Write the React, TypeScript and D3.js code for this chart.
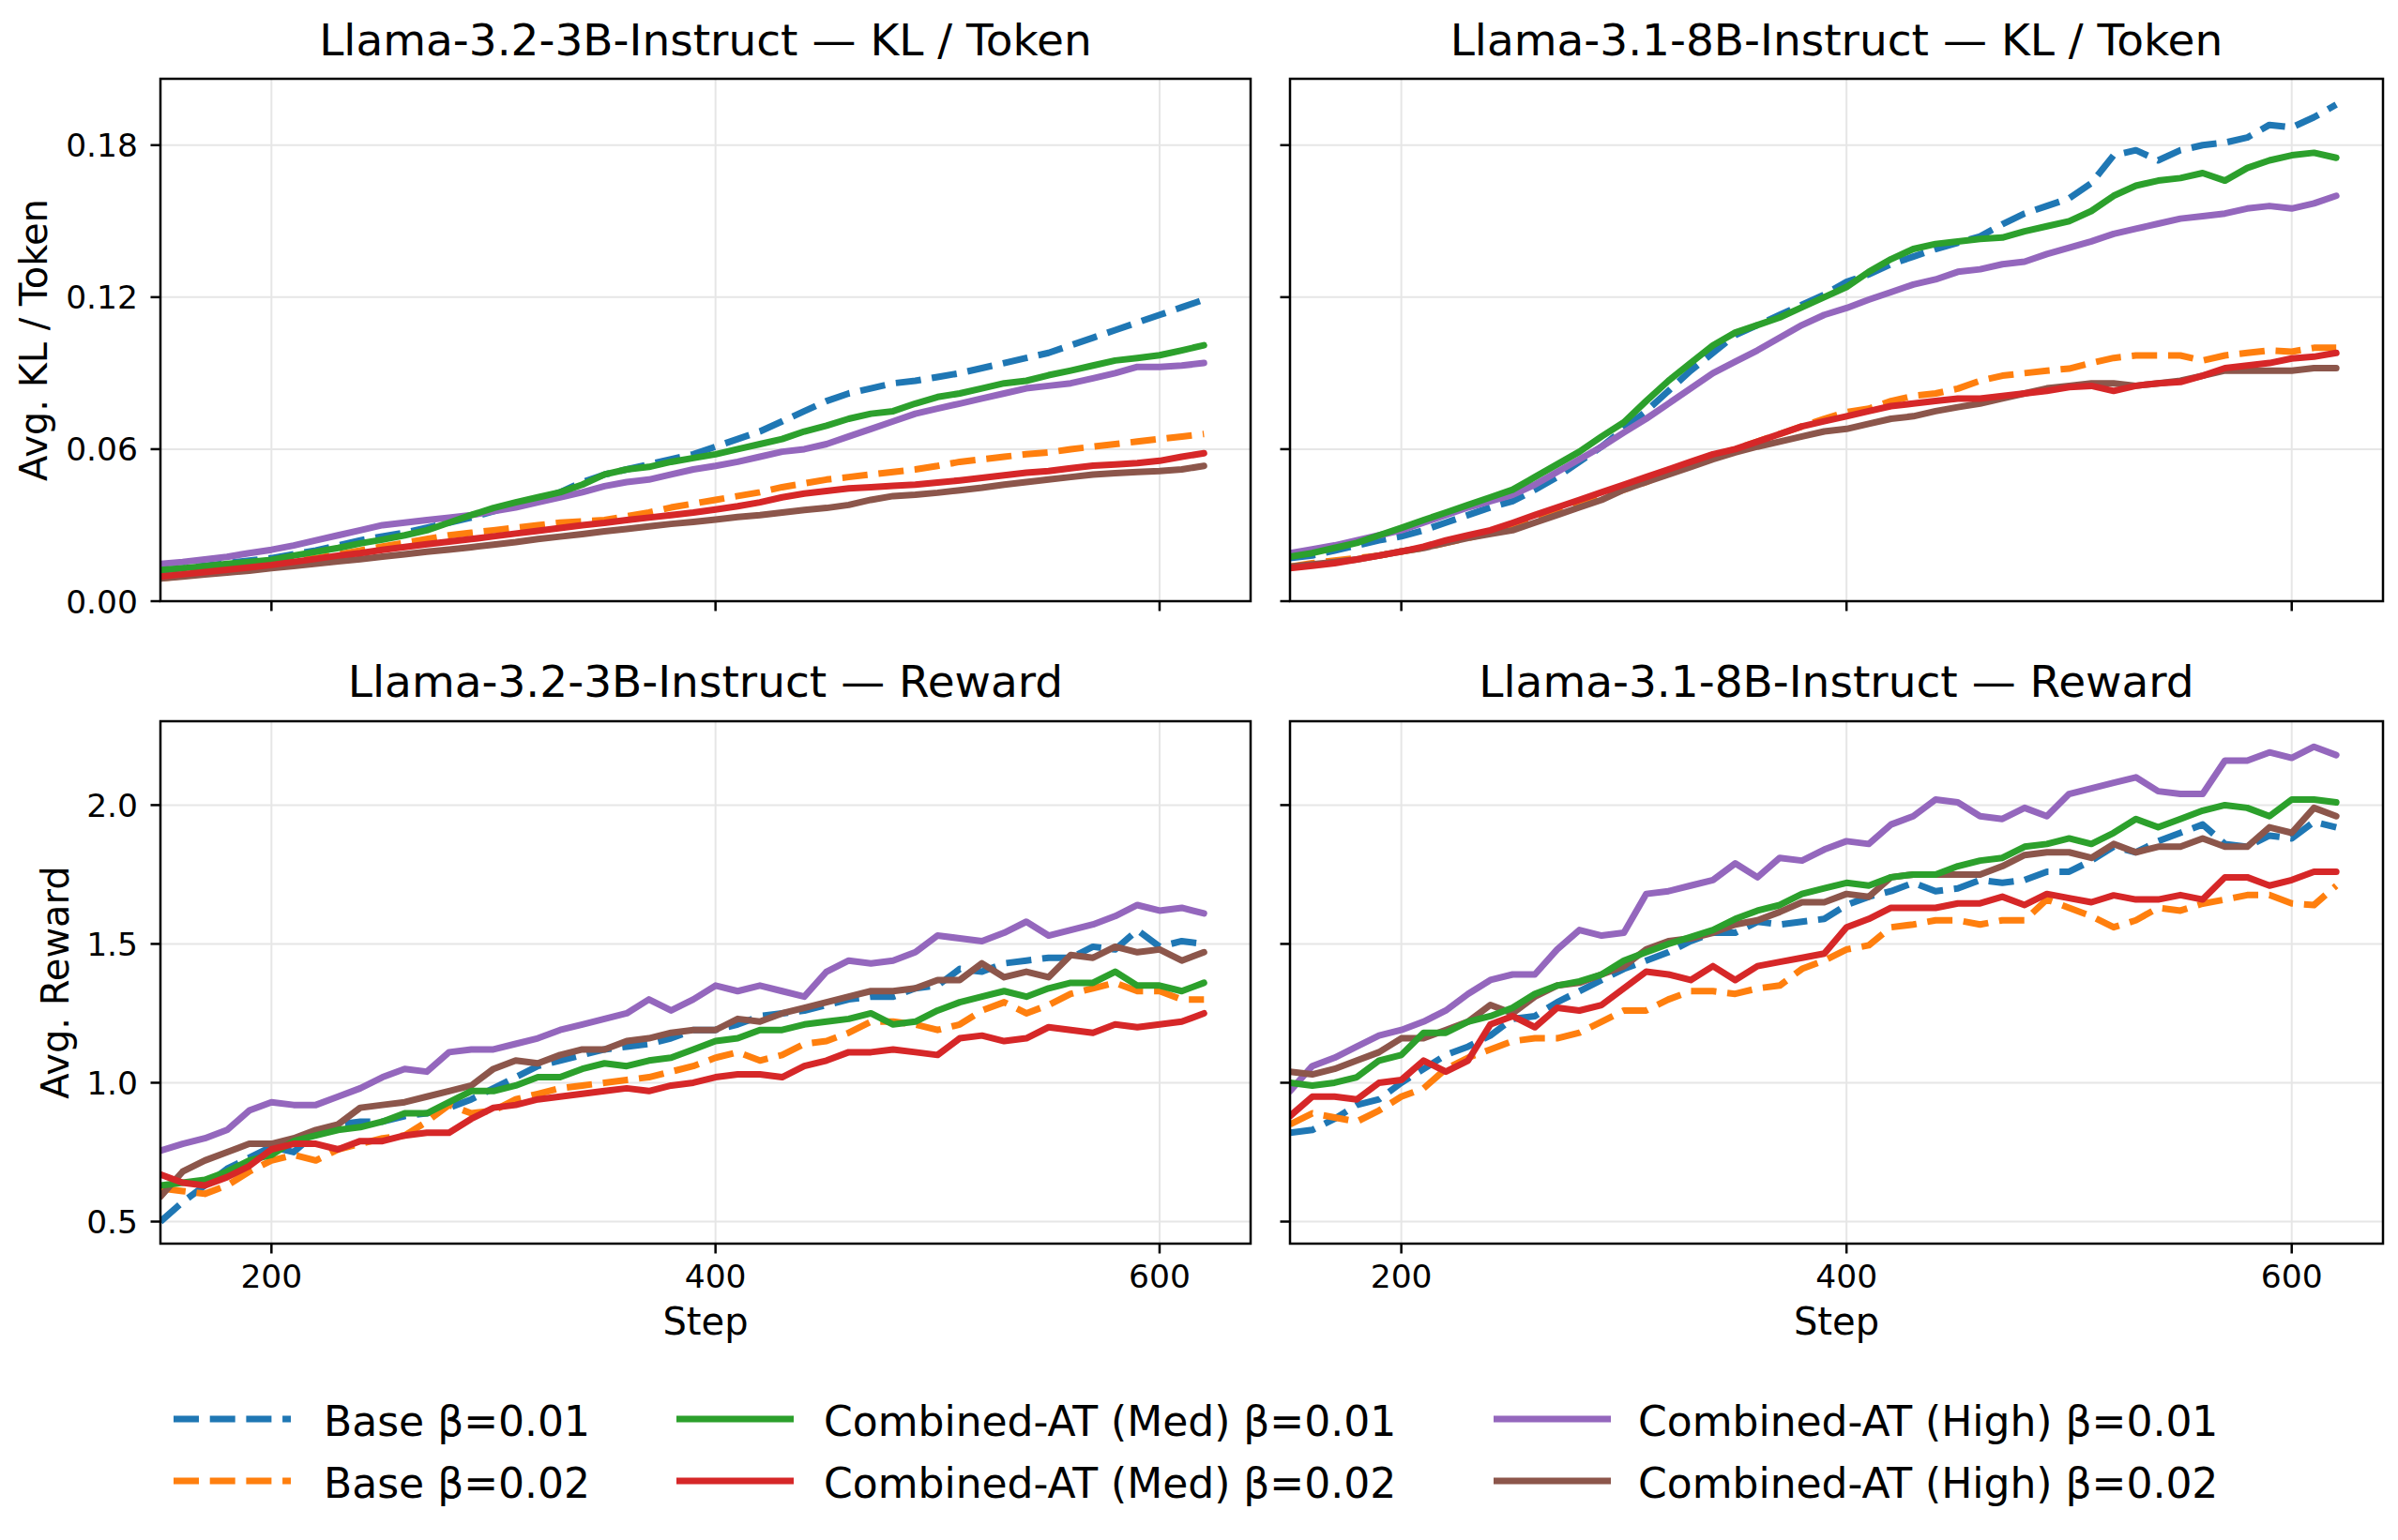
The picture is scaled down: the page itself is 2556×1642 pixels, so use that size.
import React from 'react';
import * as d3 from 'd3';

// ---------------- DATA ----------------
const steps = [150,160,170,180,190,200,210,220,230,240,250,260,270,280,290,300,310,320,330,340,350,360,370,380,390,400,410,420,430,440,450,460,470,480,490,500,510,520,530,540,550,560,570,580,590,600,610,620];

const xTicks = [200, 400, 600];
const klTicks = [0.0, 0.06, 0.12, 0.18];
const rewardTicks = [0.5, 1.0, 1.5, 2.0];

const panelTitles = [
  'Llama-3.2-3B-Instruct — KL / Token',
  'Llama-3.1-8B-Instruct — KL / Token',
  'Llama-3.2-3B-Instruct — Reward',
  'Llama-3.1-8B-Instruct — Reward',
];

const seriesLabels = ['Base β=0.01','Base β=0.02','Combined-AT (Med) β=0.01','Combined-AT (Med) β=0.02','Combined-AT (High) β=0.01','Combined-AT (High) β=0.02'];
const seriesColors = ['#1f77b4','#ff7f0e','#2ca02c','#d62728','#9467bd','#8c564b'];
const seriesDashed = [true, true, false, false, false, false];

// KL / Token, Llama-3.2-3B
const kl3B_base01 = [.012,.013,.014,.015,.016,.017, .0185,.020,.022,.024,.0256,.027,.029,.031,.033,.0355, .038,.040,.043,.047,.050,.052,.054,.056,.058,.061, .064,.067,.071,.075,.079,.082,.084,.086,.087,.0885, .090,.092,.094,.096,.098,.101,.104,.107,.110,.113, .116,.119];
const kl3B_base02 = [.009,.010,.011,.012,.013,.0143, .0157,.017,.0185,.020,.0216,.023,.0245,.026,.027,.028, .029,.030,.031,.0315,.032,.0335,.035,.037,.0385,.040, .0415,.043,.045,.0465,.048,.049,.050,.051,.052,.0534, .055,.056,.057,.058,.0587,.060,.061,.062,.063,.064, .065,.066];
const kl3B_med01 = [.0123,.013,.0138,.0147,.0155,.0163, .018,.0195,.021,.0228,.0243,.026,.028,.031,.034,.0368, .039,.041,.043,.046,.050,.052,.053,.055,.0565,.058, .060,.062,.064,.067,.0693,.072,.074,.075,.078,.0806, .082,.084,.086,.087,.0892,.091,.093,.095,.096,.0971, .099,.101];
const kl3B_med02 = [.0097,.0106,.0115,.0124,.0133,.0143, .0155,.0167,.018,.019,.0203,.0214,.0225,.0235,.0245,.0256, .0267,.0278,.0289,.030,.0309,.032,.033,.034,.035,.0362, .0375,.039,.041,.0425,.0435,.0445,.045,.0455,.046,.0468, .0477,.0487,.0497,.0507,.0514,.0525,.0535,.054,.0545,.0554, .057,.0584];
const kl3B_high01 = [.0147,.0155,.0165,.0175,.019,.0203, .022,.024,.026,.028,.030,.031,.032,.033,.034,.0355, .037,.039,.041,.043,.0454,.047,.048,.050,.052,.0534, .055,.057,.059,.060,.062,.065,.068,.071,.074,.076, .078,.080,.082,.084,.085,.086,.088,.090,.0925,.0925, .093,.094];
const kl3B_high02 = [.009,.0097,.0105,.0113,.012,.013, .0139,.0148,.0157,.0166,.0176,.0185,.0195,.0204,.0213,.0223, .0233,.0245,.0255,.0265,.0276,.0285,.0295,.0305,.0313,.0322, .0332,.034,.035,.036,.0368,.038,.040,.0415,.042,.0428, .0438,.0448,.046,.047,.048,.049,.050,.0505,.051,.0514, .052,.0534];

// KL / Token, Llama-3.1-8B
const kl8B_base01 = [.017,.018,.020,.022,.024,.0256, .028,.031,.034,.037,.0395,.044,.049,.055,.061,.068, .075,.083,.091,.098,.105,.109,.113,.117,.121,.126, .129,.133,.136,.139,.1415,.144,.1488,.153,.156,.159, .165,.176,.178,.174,.178,.180,.181,.183,.188,.187, .191,.196];
const kl8B_base02 = [.0136,.015,.016,.017,.018,.0196, .021,.023,.025,.027,.0295,.032,.035,.038,.041,.044, .047,.051,.054,.057,.060,.063,.066,.069,.072,.0746, .076,.079,.081,.082,.0839,.087,.089,.090,.091,.0918, .094,.096,.097,.097,.097,.095,.097,.098,.099,.0985, .100,.100];
const kl8B_med01 = [.0176,.019,.021,.023,.026,.0289, .032,.035,.038,.041,.044,.049,.054,.059,.065,.0706, .079,.087,.094,.101,.106,.109,.112,.116,.120,.124, .130,.135,.139,.141,.142,.143,.1435,.146,.148,.150, .154,.160,.164,.166,.167,.169,.166,.171,.174,.176, .177,.175];
const kl8B_med02 = [.013,.014,.015,.0165,.018,.0196, .0215,.024,.026,.028,.0309,.034,.037,.040,.043,.046, .049,.052,.055,.058,.060,.063,.066,.069,.071,.073, .075,.077,.078,.079,.080,.080,.081,.082,.083,.0845, .085,.083,.085,.086,.0865,.089,.092,.093,.094,.0958, .0965,.098];
const kl8B_high01 = [.019,.0205,.022,.024,.026,.028, .031,.034,.037,.0395,.042,.046,.051,.056,.061,.0666, .072,.078,.084,.090,.0945,.099,.104,.109,.113,.1157, .119,.122,.125,.127,.130,.131,.133,.134,.137,.1395, .142,.145,.147,.149,.151,.152,.153,.155,.156,.155, .157,.160];
const kl8B_high02 = [.0136,.0145,.0155,.0165,.018,.0196, .021,.023,.025,.0265,.028,.031,.034,.037,.040,.044, .047,.050,.053,.056,.0587,.061,.063,.065,.067,.068, .070,.072,.073,.075,.0766,.078,.080,.082,.084,.085, .086,.086,.085,.086,.087,.089,.091,.091,.091,.091, .092,.092];

// Reward, Llama-3.2-3B
const rw3B_base01 = [.50,.57,.63,.69,.73,.77, .75,.82,.85,.86,.86,.88,.89,.91,.94,.98, 1.02,1.06,1.08,1.10,1.12,1.13,1.14,1.16,1.19,1.19, 1.21,1.24,1.25,1.26,1.28,1.30,1.31,1.31,1.34,1.35, 1.41,1.40,1.43,1.44,1.45,1.45,1.49,1.48,1.55,1.49, 1.51,1.50];
const rw3B_base02 = [.62,.61,.60,.63,.68,.72, .74,.72,.76,.78,.80,.81,.86,.92,.89,.90, .94,.96,.98,.99,1.00,1.01,1.02,1.04,1.06,1.09, 1.11,1.08,1.10,1.14,1.15,1.18,1.22,1.22,1.21,1.19, 1.21,1.26,1.29,1.25,1.28,1.32,1.34,1.36,1.33,1.33, 1.30,1.30];
const rw3B_med01 = [.63,.64,.65,.68,.72,.74, .79,.81,.83,.84,.86,.89,.89,.93,.97,.97, .99,1.02,1.02,1.05,1.07,1.06,1.08,1.09,1.12,1.15, 1.16,1.19,1.19,1.21,1.22,1.23,1.25,1.21,1.22,1.26, 1.29,1.31,1.33,1.31,1.34,1.36,1.36,1.40,1.35,1.35, 1.33,1.36];
const rw3B_med02 = [.67,.64,.63,.66,.70,.76, .78,.78,.76,.79,.79,.81,.82,.82,.87,.91, .92,.94,.95,.96,.97,.98,.97,.99,1.00,1.02, 1.03,1.03,1.02,1.06,1.08,1.11,1.11,1.12,1.11,1.10, 1.16,1.17,1.15,1.16,1.20,1.19,1.18,1.21,1.20,1.21, 1.22,1.25];
const rw3B_high01 = [.755,.78,.80,.83,.90,.93, .92,.92,.95,.98,1.02,1.05,1.04,1.11,1.12,1.12, 1.14,1.16,1.19,1.21,1.23,1.25,1.30,1.26,1.30,1.35, 1.33,1.35,1.33,1.31,1.40,1.44,1.43,1.44,1.47,1.53, 1.52,1.51,1.54,1.58,1.53,1.55,1.57,1.60,1.64,1.62, 1.63,1.61];
const rw3B_high02 = [.59,.68,.72,.75,.78,.78, .80,.83,.85,.91,.92,.93,.95,.97,.99,1.05, 1.08,1.07,1.10,1.12,1.12,1.15,1.16,1.18,1.19,1.19, 1.23,1.22,1.25,1.27,1.29,1.31,1.33,1.33,1.34,1.37, 1.37,1.43,1.38,1.40,1.38,1.46,1.45,1.49,1.47,1.48, 1.44,1.47];

// Reward, Llama-3.1-8B
const rw8B_base01 = [.82,.83,.87,.92,.94,1.00, 1.05,1.10,1.13,1.17,1.23,1.24,1.29,1.33,1.37,1.41, 1.44,1.47,1.51,1.54,1.54,1.58,1.57,1.58,1.59,1.64, 1.67,1.69,1.72,1.69,1.70,1.73,1.72,1.73,1.76,1.76, 1.80,1.85,1.83,1.87,1.90,1.93,1.86,1.85,1.89,1.88, 1.94,1.92];
const rw8B_base02 = [.85,.89,.875,.86,.90,.95, .98,1.05,1.09,1.12,1.15,1.16,1.16,1.18,1.22,1.26, 1.26,1.30,1.33,1.33,1.32,1.34,1.35,1.41,1.44,1.48, 1.495,1.56,1.57,1.585,1.585,1.57,1.585,1.585,1.66,1.63, 1.60,1.56,1.585,1.63,1.62,1.645,1.66,1.676,1.676,1.646, 1.64,1.71];
const rw8B_med01 = [1.00,.99,1.00,1.02,1.08,1.10, 1.18,1.18,1.22,1.24,1.27,1.32,1.35,1.365,1.39,1.44, 1.47,1.50,1.525,1.55,1.59,1.62,1.64,1.68,1.70,1.72, 1.71,1.74,1.75,1.75,1.78,1.80,1.81,1.85,1.86,1.88, 1.86,1.90,1.95,1.92,1.95,1.98,2.00,1.99,1.96,2.02, 2.02,2.01];
const rw8B_med02 = [.88,.95,.95,.94,1.00,1.01, 1.08,1.04,1.08,1.21,1.24,1.20,1.27,1.26,1.28,1.34, 1.40,1.39,1.37,1.42,1.37,1.42,1.435,1.45,1.465,1.56, 1.59,1.63,1.63,1.63,1.646,1.646,1.67,1.64,1.68,1.665, 1.65,1.675,1.66,1.66,1.676,1.66,1.74,1.74,1.71,1.73, 1.76,1.76];
const rw8B_high01 = [.97,1.06,1.09,1.13,1.17,1.19, 1.22,1.26,1.32,1.37,1.39,1.39,1.48,1.55,1.53,1.54, 1.68,1.69,1.71,1.73,1.79,1.74,1.81,1.80,1.84,1.87, 1.86,1.93,1.96,2.02,2.01,1.96,1.95,1.99,1.96,2.04, 2.06,2.08,2.10,2.05,2.04,2.04,2.16,2.16,2.19,2.17, 2.21,2.18];
const rw8B_high02 = [1.04,1.03,1.05,1.08,1.11,1.16, 1.16,1.19,1.22,1.28,1.25,1.31,1.35,1.36,1.39,1.42, 1.48,1.51,1.52,1.54,1.57,1.585,1.615,1.65,1.65,1.68, 1.67,1.74,1.75,1.75,1.75,1.75,1.78,1.82,1.83,1.83, 1.81,1.86,1.83,1.85,1.85,1.88,1.85,1.85,1.92,1.90, 1.99,1.96];

// order of series within each panel follows seriesLabels
const panelSeries = [
  [kl3B_base01, kl3B_base02, kl3B_med01, kl3B_med02, kl3B_high01, kl3B_high02],
  [kl8B_base01, kl8B_base02, kl8B_med01, kl8B_med02, kl8B_high01, kl8B_high02],
  [rw3B_base01, rw3B_base02, rw3B_med01, rw3B_med02, rw3B_high01, rw3B_high02],
  [rw8B_base01, rw8B_base02, rw8B_med01, rw8B_med02, rw8B_high01, rw8B_high02],
];
// drawing order (later = on top)
const drawOrder = [0, 1, 4, 5, 2, 3];

// ---------------- LAYOUT ----------------
const W = 2556, H = 1642;
const FONT = "'DejaVu Sans', 'Liberation Sans', sans-serif";
const colsX = [[171, 1333], [1375, 2540]];
const rowsY = [[84, 641], [769, 1326]];
const xDomain = [150, 641];
const yDomains = [[0, 0.2062], [0.4206, 2.302]];
const LW = 7;
const DASH = '27 11.7';
const TICK_FS = 34.5;
const LABEL_FS = 40;
const TITLE_FS = 47;
const LEGEND_FS = 44;

function Panel({ idx }: { idx: number }) {
  const col = idx % 2;
  const row = Math.floor(idx / 2);
  const [x0, x1] = colsX[col];
  const [y0, y1] = rowsY[row];
  const x = d3.scaleLinear().domain(xDomain).range([x0, x1]);
  const y = d3.scaleLinear().domain(yDomains[row]).range([y1, y0]);
  const yTicks = row === 0 ? klTicks : rewardTicks;
  const yFmt = row === 0 ? d3.format('.2f') : d3.format('.1f');
  const line = d3.line<number>().x((_, i) => x(steps[i])).y((v) => y(v));
  const clipId = `clip${idx}`;
  const cx = (x0 + x1) / 2;
  return (
    <g>
      <defs>
        <clipPath id={clipId}>
          <rect x={x0} y={y0} width={x1 - x0} height={y1 - y0} />
        </clipPath>
      </defs>
      {/* grid */}
      {xTicks.map((t) => (
        <line key={'gx' + t} x1={x(t)} x2={x(t)} y1={y0} y2={y1} stroke="#e6e6e6" strokeWidth={2} />
      ))}
      {yTicks.map((t) => (
        <line key={'gy' + t} x1={x0} x2={x1} y1={y(t)} y2={y(t)} stroke="#e6e6e6" strokeWidth={2} />
      ))}
      {/* series */}
      <g clipPath={`url(#${clipId})`}>
        {drawOrder.map((si) => (
          <path
            key={si}
            d={line(panelSeries[idx][si]) || ''}
            fill="none"
            stroke={seriesColors[si]}
            strokeWidth={LW}
            strokeDasharray={seriesDashed[si] ? DASH : undefined}
            strokeLinejoin="round"
            strokeLinecap={seriesDashed[si] ? 'butt' : 'round'}
          />
        ))}
      </g>
      {/* spines */}
      <rect x={x0} y={y0} width={x1 - x0} height={y1 - y0} fill="none" stroke="#000" strokeWidth={2.5} />
      {/* ticks */}
      {xTicks.map((t) => (
        <line key={'tx' + t} x1={x(t)} x2={x(t)} y1={y1} y2={y1 + 10.5} stroke="#000" strokeWidth={2.5} />
      ))}
      {yTicks.map((t) => (
        <line key={'ty' + t} x1={x0 - 10.5} x2={x0} y1={y(t)} y2={y(t)} stroke="#000" strokeWidth={2.5} />
      ))}
      {/* tick labels */}
      {row === 1 &&
        xTicks.map((t) => (
          <text key={'lx' + t} x={x(t)} y={1373} textAnchor="middle" fontSize={TICK_FS} fontFamily={FONT} fill="#000">
            {t}
          </text>
        ))}
      {col === 0 &&
        yTicks.map((t) => (
          <text key={'ly' + t} x={147} y={y(t) + 12.5} textAnchor="end" fontSize={TICK_FS} fontFamily={FONT} fill="#000">
            {yFmt(t)}
          </text>
        ))}
      {/* title */}
      <text x={cx} y={row === 0 ? 59 : 743} textAnchor="middle" fontSize={TITLE_FS} fontFamily={FONT} fill="#000">
        {panelTitles[idx]}
      </text>
      {/* axis labels */}
      {row === 1 && (
        <text x={cx} y={1423} textAnchor="middle" fontSize={LABEL_FS} fontFamily={FONT} fill="#000">
          Step
        </text>
      )}
      {col === 0 && (
        <text
          x={row === 0 ? 50 : 73}
          y={(y0 + y1) / 2}
          textAnchor="middle"
          fontSize={LABEL_FS}
          fontFamily={FONT}
          fill="#000"
          transform={`rotate(-90, ${row === 0 ? 50 : 73}, ${(y0 + y1) / 2})`}
        >
          {row === 0 ? 'Avg. KL / Token' : 'Avg. Reward'}
        </text>
      )}
    </g>
  );
}

function Legend() {
  const hx = [185, 721, 1592];
  const ry = [1513, 1579];
  const HL = 125;
  return (
    <g>
      {seriesLabels.map((lab, i) => {
        const c = Math.floor(i / 2);
        const r = i % 2;
        const yy = ry[r];
        return (
          <g key={lab}>
            <line
              x1={hx[c]}
              x2={hx[c] + HL}
              y1={yy}
              y2={yy}
              stroke={seriesColors[i]}
              strokeWidth={LW}
              strokeDasharray={seriesDashed[i] ? DASH : undefined}
            />
            <text x={hx[c] + 160 - c * 3} y={yy + 18} fontSize={LEGEND_FS} fontFamily={FONT} fill="#000">
              {lab}
            </text>
          </g>
        );
      })}
    </g>
  );
}

export default function App() {
  return (
    <svg
      width={W}
      height={H}
      viewBox={`0 0 ${W} ${H}`}
      style={{ position: 'absolute', left: 0, top: 0, background: '#fff' }}
    >
      <rect x={0} y={0} width={W} height={H} fill="#fff" />
      {[0, 1, 2, 3].map((i) => (
        <Panel key={i} idx={i} />
      ))}
      <Legend />
    </svg>
  );
}
